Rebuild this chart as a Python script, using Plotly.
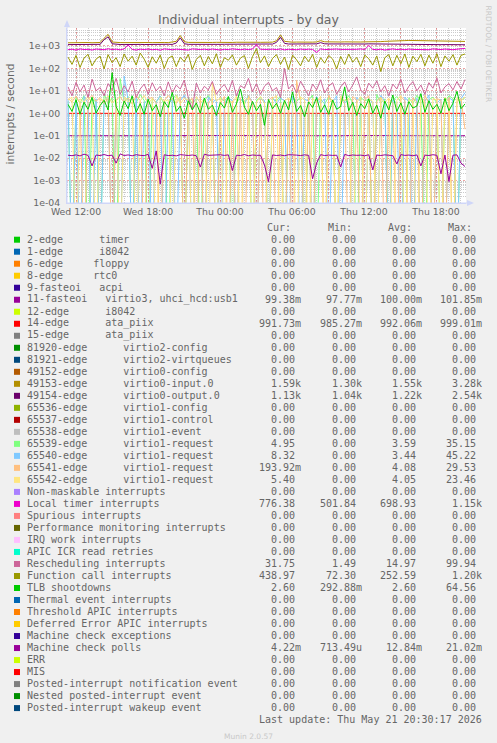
import plotly.graph_objects as go
import pandas as pd
import numpy as np

# ---------------- data ----------------
legend_names = [
    "2-edge      timer", "1-edge      i8042", "6-edge     floppy", "8-edge     rtc0",
    "9-fasteoi   acpi", "11-fasteoi   virtio3, uhci_hcd:usb1", "12-edge      i8042",
    "14-edge      ata_piix", "15-edge      ata_piix",
    "81920-edge      virtio2-config", "81921-edge      virtio2-virtqueues",
    "49152-edge      virtio0-config", "49153-edge      virtio0-input.0",
    "49154-edge      virtio0-output.0", "65536-edge      virtio1-config",
    "65537-edge      virtio1-control", "65538-edge      virtio1-event",
    "65539-edge      virtio1-request", "65540-edge      virtio1-request",
    "65541-edge      virtio1-request", "65542-edge      virtio1-request",
    "Non-maskable interrupts", "Local timer interrupts", "Spurious interrupts",
    "Performance monitoring interrupts", "IRQ work interrupts", "APIC ICR read retries",
    "Rescheduling interrupts", "Function call interrupts", "TLB shootdowns",
    "Thermal event interrupts", "Threshold APIC interrupts", "Deferred Error APIC interrupts",
    "Machine check exceptions", "Machine check polls", "ERR", "MIS",
    "Posted-interrupt notification event", "Nested posted-interrupt event",
    "Posted-interrupt wakeup event",
]
legend_colors = [
    "#00CC00", "#0066B3", "#FF8000", "#FFCC00", "#330099", "#990099", "#CCFF00", "#FF0000",
    "#808080", "#008F00", "#00487D", "#B35A00", "#B38F00", "#6B006B", "#8FB300", "#B30000",
    "#BEBEBE", "#80FF80", "#80C9FF", "#FFC080", "#FFE680", "#AA80FF", "#EE00CC", "#FF8080",
    "#666600", "#FFBFFF", "#00FFCC", "#CC6699", "#999900", "#00CC00", "#0066B3", "#FF8000",
    "#FFCC00", "#330099", "#990099", "#CCFF00", "#FF0000", "#808080", "#008F00", "#00487D",
]
Z = "0.00"
cur_vals = [Z, Z, Z, Z, Z, "99.38m", Z, "991.73m", Z, Z, Z, Z, "1.59k", "1.13k", Z, Z, Z,
            "4.95", "8.32", "193.92m", "5.40", Z, "776.38", Z, Z, Z, Z, "31.75", "438.97",
            "2.60", Z, Z, Z, Z, "4.22m", Z, Z, Z, Z, Z]
min_vals = [Z, Z, Z, Z, Z, "97.77m", Z, "985.27m", Z, Z, Z, Z, "1.30k", "1.04k", Z, Z, Z,
            Z, Z, Z, Z, Z, "501.84", Z, Z, Z, Z, "1.49", "72.30",
            "292.88m", Z, Z, Z, Z, "713.49u", Z, Z, Z, Z, Z]
avg_vals = [Z, Z, Z, Z, Z, "100.00m", Z, "992.06m", Z, Z, Z, Z, "1.55k", "1.22k", Z, Z, Z,
            "3.59", "3.44", "4.08", "4.05", Z, "698.93", Z, Z, Z, Z, "14.97", "252.59",
            "2.60", Z, Z, Z, Z, "12.84m", Z, Z, Z, Z, Z]
max_vals = [Z, Z, Z, Z, Z, "101.85m", Z, "999.01m", Z, Z, Z, Z, "3.28k", "2.54k", Z, Z, Z,
            "35.15", "45.22", "29.53", "23.46", Z, "1.15k", Z, Z, Z, Z, "99.94", "1.20k",
            "64.56", Z, Z, Z, Z, "21.02m", Z, Z, Z, Z, Z]

# time series (interrupts / second)
fasteoi11 = [0.100, 0.099, 0.101, 0.100, 0.098, 0.100, 0.102, 0.100, 0.099, 0.100,
             0.101, 0.100, 0.0978, 0.100, 0.1018, 0.100, 0.099, 0.100, 0.101, 0.0994]
ata14 = [0.992, 0.990, 0.993, 0.991, 0.994, 0.989, 0.992, 0.995, 0.990, 0.993,
         0.985, 0.992, 0.996, 0.991, 0.993, 0.990, 0.999, 0.992, 0.991, 0.992]
input0 = [
    1380, 1400, 1390, 1410, 1400, 1420, 1390, 1400, 1430, 2200, 3280, 1500, 1420, 1410, 1400, 1420, 1390, 1410, 1400, 1430,
    1420, 1410, 1440, 1420, 1430, 1410, 1450, 1600, 2900, 1550, 1440, 1420, 1430, 1410, 1440, 1420, 1430, 1450, 1420, 1440,
    1450, 1430, 1460, 1440, 1450, 1470, 1440, 1460, 1450, 1470, 1460, 1480, 1700, 3100, 1600, 1480, 1470, 1490, 1460, 1480,
    1500, 1480, 1510, 1720, 1530, 1500, 1490, 1510, 1500, 1520, 1490, 1510, 1530, 1500, 1520, 1510, 1540, 1520, 1560, 1600,
    1650, 1700, 1720, 1740, 1730, 1760, 1750, 1740, 1760, 1780, 1770, 1760, 1740, 1720, 1700, 1690, 1680, 1670, 1640, 1590]
output0 = [
    1150, 1160, 1150, 1170, 1160, 1150, 1170, 1160, 1180, 1900, 2540, 1250, 1170, 1160, 1150, 1170, 1160, 1150, 1170, 1160,
    1180, 1170, 1160, 1180, 1170, 1190, 1170, 1350, 2300, 1250, 1180, 1170, 1190, 1180, 1170, 1190, 1180, 1200, 1180, 1190,
    1200, 1190, 1210, 1200, 1190, 1210, 1200, 1220, 1210, 1200, 1220, 1210, 1450, 2450, 1300, 1220, 1210, 1230, 1220, 1210,
    1230, 1220, 1240, 1400, 1250, 1230, 1220, 1240, 1230, 1220, 1240, 1230, 1250, 1230, 1220, 1240, 1230, 1250, 1240, 1230,
    1250, 1240, 1230, 1250, 1240, 1220, 1210, 1200, 1190, 1180, 1170, 1160, 1150, 1140, 1150, 1140, 1130, 1140, 1130, 1130]
req65539 = [
    3.5, 0, 5.2, 2.8, 6.1, 0, 4.0, 3.3, 0, 7.5, 2.6, 4.8, 0, 35.15, 3.0, 5.5, 0, 2.9, 6.8, 3.7,
    0, 4.5, 3.1, 5.9, 2.4, 0, 4.2, 6.6, 3.0, 0, 5.1, 2.7, 4.4, 0, 3.6, 6.2, 2.8, 0, 4.9, 3.4,
    5.7, 0, 3.2, 4.6, 2.5, 6.4, 0, 3.9, 5.0, 2.9, 0, 4.3, 3.5, 6.0, 0, 2.7, 4.8, 3.3, 5.4, 0,
    3.8, 6.5, 0, 4.1, 2.6, 5.3, 3.0, 0, 4.7, 3.4, 6.1, 2.8, 0, 5.0, 3.6, 4.2, 0, 6.8, 2.9, 4.4,
    0, 3.7, 5.6, 3.1, 0, 4.9, 2.7, 6.3, 3.5, 0, 4.0, 5.2, 2.9, 0, 3.3, 6.0, 4.5, 0, 3.8, 4.95]
req65540 = [
    4.2, 0, 3.1, 0, 5.6, 2.8, 0, 4.4, 0, 3.5, 6.0, 0, 2.9, 0, 45.22, 3.8, 0, 5.1, 0, 2.6,
    4.7, 0, 3.3, 5.9, 0, 2.7, 4.1, 0, 3.6, 6.3, 2.5, 0, 4.8, 3.0, 0, 5.4, 3.2, 4.0, 0, 2.8,
    5.0, 3.5, 0, 4.6, 2.9, 6.1, 3.1, 0, 4.3, 3.7, 0, 5.2, 2.6, 4.9, 3.4, 0, 5.8, 3.0, 0, 4.1,
    3.6, 0, 5.5, 2.8, 4.4, 0, 3.2, 6.0, 0, 3.9, 2.7, 0, 5.1, 3.3, 0, 4.6, 2.9, 0, 6.2, 3.5,
    0, 4.0, 2.8, 0, 5.3, 3.1, 0, 4.7, 0, 3.4, 6.4, 0, 2.9, 4.2, 0, 5.0, 3.6, 0, 4.4, 8.32]
req65541 = [
    4.5, 3.2, 5.8, 2.9, 0, 4.1, 6.3, 3.4, 5.0, 2.7, 4.6, 0, 3.9, 5.5, 3.0, 4.8, 2.6, 6.0, 3.7, 0,
    4.3, 5.1, 2.8, 0, 3.6, 6.2, 4.0, 2.9, 5.4, 0, 3.3, 4.7, 0, 5.9, 0, 3.1, 4.4, 0, 2.8, 5.6,
    0, 3.5, 0, 4.9, 0, 6.1, 2.7, 0, 4.2, 0, 3.8, 5.3, 0, 2.9, 0, 4.6, 0, 29.53, 3.4, 0,
    5.0, 0, 3.7, 4.5, 0, 6.4, 3.0, 0, 4.8, 2.6, 0, 5.5, 3.9, 0, 4.1, 6.0, 0, 3.3, 5.2, 0,
    4.4, 2.8, 0, 5.7, 3.6, 0, 4.9, 3.1, 0, 6.3, 2.7, 0, 4.5, 3.8, 0, 5.1, 0, 3.4, 4.6, 0.194]
req65542 = [
    3.9, 5.2, 0, 4.4, 3.1, 5.7, 2.8, 0, 4.6, 3.5, 6.0, 2.9, 4.1, 0, 5.4, 3.2, 4.8, 0, 3.6, 6.2,
    2.7, 4.5, 0, 5.1, 3.3, 4.0, 0, 6.3, 2.6, 4.7, 3.8, 0, 5.5, 3.0, 4.2, 0, 23.46, 3.4, 5.0, 0,
    4.3, 2.8, 5.9, 0, 3.7, 4.9, 0, 3.1, 5.6, 2.9, 0, 4.4, 6.1, 0, 3.5, 4.8, 2.7, 0, 5.3, 3.9,
    0, 4.6, 3.2, 5.8, 0, 2.8, 4.1, 0, 6.0, 3.6, 4.7, 0, 3.0, 5.5, 0, 4.3, 3.4, 0, 5.0, 2.9,
    4.8, 0, 3.8, 6.2, 0, 4.0, 3.3, 0, 5.7, 2.7, 0, 4.5, 3.9, 0, 5.2, 3.1, 0, 4.9, 3.6, 5.40]
local_timer = [
    680, 720, 650, 740, 690, 710, 660, 730, 700, 680, 750, 690, 720, 670, 740, 1100, 700, 660, 720, 690,
    730, 680, 710, 650, 740, 700, 680, 720, 690, 710, 660, 740, 700, 690, 720, 680, 730, 700, 660, 710,
    690, 740, 700, 680, 720, 690, 730, 1150, 710, 680, 700, 720, 690, 740, 670, 710, 700, 680, 730, 690,
    720, 700, 510, 740, 690, 710, 680, 730, 700, 690, 720, 680, 710, 740, 690, 1050, 700, 680, 720, 660,
    710, 740, 690, 720, 680, 730, 700, 690, 720, 710, 680, 740, 700, 690, 730, 710, 680, 720, 760, 776]
resched = [
    15, 6, 24, 9, 18, 5, 33, 10, 14, 6, 21, 11, 36, 7, 17, 9, 27, 5, 12, 20,
    7, 23, 10, 16, 6, 25, 8, 18, 12, 30, 5, 1.49, 22, 8, 16, 11, 26, 7, 13, 19,
    9, 29, 6, 17, 13, 36, 9, 21, 7, 16, 24, 10, 14, 5, 99.94, 12, 19, 8, 27, 12,
    6, 20, 11, 31, 8, 16, 23, 7, 15, 25, 9, 18, 42, 11, 7, 22, 13, 28, 9, 17,
    6, 20, 12, 33, 8, 16, 26, 10, 18, 7, 23, 13, 37, 8, 15, 21, 11, 26, 12, 31.75]
func_call = [
    320, 150, 380, 110, 290, 420, 130, 260, 350, 95, 410, 180, 300, 120, 440, 210, 350, 140, 480, 260,
    110, 330, 170, 390, 100, 280, 360, 120, 310, 200, 420, 90, 250, 380, 130, 340, 160, 450, 110, 300,
    230, 400, 140, 290, 370, 100, 330, 750, 180, 360, 120, 280, 410, 150, 320, 90, 390, 240, 130, 350,
    200, 420, 110, 300, 170, 380, 260, 95, 340, 150, 430, 190, 310, 120, 390, 270, 140, 360, 72.3, 300,
    410, 130, 380, 160, 440, 110, 350, 200, 420, 130, 390, 170, 450, 120, 360, 210, 410, 140, 380, 439]
tlb = [
    2.5, 1.2, 4.0, 0.9, 3.1, 1.5, 5.2, 1.0, 2.2, 3.8, 1.4, 64.56, 2.0, 0.8, 3.5, 1.6, 6.0, 1.1, 2.7, 0.9,
    4.2, 1.3, 2.4, 0.7, 3.3, 1.8, 8.5, 1.2, 2.1, 0.6, 3.6, 1.4, 2.9, 1.0, 4.8, 1.5, 2.3, 0.8, 3.0, 1.7,
    5.5, 1.1, 2.6, 12.0, 1.9, 0.9, 3.4, 1.3, 2.5, 0.29, 4.1, 1.6, 2.8, 1.0, 3.7, 1.4, 9.0, 1.2, 2.2, 0.7,
    3.2, 1.8, 5.0, 1.1, 2.4, 0.9, 3.9, 1.5, 2.0, 15.0, 1.3, 3.1, 0.8, 2.7, 1.6, 4.4, 1.0, 2.3, 0.6, 3.5,
    1.4, 6.5, 1.2, 2.9, 0.9, 3.3, 1.7, 2.1, 7.5, 1.1, 3.6, 1.5, 2.5, 1.0, 4.6, 1.3, 2.8, 9.5, 1.6, 2.6]
mc_polls = [
    0.0135, 0.0128, 0.0140, 0.0125, 0.0150, 0.0132, 0.0045, 0.0138, 0.0130, 0.0145, 0.0128, 0.0136, 0.0060, 0.0155, 0.0131, 0.0139, 0.0127, 0.0142, 0.0133, 0.0129,
    0.0148, 0.0035, 0.0210, 0.0007, 0.0141, 0.0130, 0.0134, 0.0126, 0.0143, 0.0137, 0.0131, 0.0138, 0.0128, 0.0040, 0.0150, 0.0133, 0.0136, 0.0129, 0.0141, 0.0132,
    0.0140, 0.0028, 0.0135, 0.0130, 0.0145, 0.0127, 0.0138, 0.0133, 0.0134, 0.0050, 0.0009, 0.0139, 0.0131, 0.0137, 0.0128, 0.0142, 0.0134, 0.0136, 0.0130, 0.0140,
    0.0133, 0.0012, 0.0060, 0.0143, 0.0130, 0.0137, 0.0132, 0.0135, 0.0040, 0.0147, 0.0129, 0.0138, 0.0133, 0.0136, 0.0128, 0.0141, 0.0030, 0.0137, 0.0131, 0.0140,
    0.0134, 0.0129, 0.0055, 0.0144, 0.0132, 0.0137, 0.0128, 0.0139, 0.0045, 0.0136, 0.0131, 0.0142, 0.0133, 0.0020, 0.0138, 0.0009, 0.0135, 0.0140, 0.0060, 0.00422]

# legend index -> series (drawn in legend order)
plotted = {5: fasteoi11, 7: ata14, 12: input0, 13: output0, 17: req65539, 18: req65540,
           19: req65541, 20: req65542, 22: local_timer, 27: resched, 28: func_call,
           29: tlb, 34: mc_polls}

data_start, data_end = "2026-05-20 11:20", "2026-05-21 20:25"
view_start, view_end = "2026-05-20 11:15", "2026-05-21 20:30"

# ---------------- layout geometry ----------------
W, H = 497, 743
L, R, T, B = 67, 31, 28, 540
PW, PH = W - L - R, H - T - B
BOT = H - B


def px(x):
    return (x - L) / PW


def py(y):
    return (BOT - y) / PH


FONT = "DejaVu Sans, Verdana, sans-serif"
MONO = "DejaVu Sans Mono, monospace"
TXT = "#666666"
AXC = "#CFD6F8"

fig = go.Figure()
for idx in sorted(plotted):
    vals = np.array(plotted[idx], dtype=float)
    xs = pd.date_range(data_start, data_end, periods=len(vals))
    fig.add_trace(go.Scatter(
        x=xs, y=np.where(vals > 0, vals, 1e-7), mode="lines",
        line=dict(color=legend_colors[idx], width=1), hoverinfo="skip", showlegend=False))

major_x = pd.date_range("2026-05-20 12:00", "2026-05-21 18:00", freq="3h")
major_txt = [t.strftime("%a %H:%M") if t.hour % 6 == 0 else "" for t in major_x]
ytv = [10.0 ** k for k in range(-4, 4)]
ytt = [f"{v:.0e}" for v in ytv]
yminor = [m * 10.0 ** k for k in range(-4, 4) for m in range(2, 10)]

MGRID = "rgba(222,80,80,0.5)"
GRID = "rgba(140,140,140,0.45)"

fig.update_layout(
    width=W, height=H, margin=dict(l=L, r=R, t=T, b=B, pad=0),
    paper_bgcolor="#F0F0F0", plot_bgcolor="#FFFFFF",
    font=dict(family=FONT, color=TXT),
    xaxis=dict(type="date", range=[view_start, view_end], tickmode="array",
               tickvals=major_x, ticktext=major_txt, showgrid=True, gridcolor=MGRID,
               gridwidth=1, griddash="2px,2px", ticks="", tickfont=dict(size=9.33, color=TXT),
               showline=True, linecolor=AXC, linewidth=1, zeroline=False,
               minor=dict(tickmode="linear", tick0="2026-05-20 12:00", dtick=3600000,
                          showgrid=True, gridcolor=GRID, griddash="1px,1px", gridwidth=1)),
    yaxis=dict(type="log", range=[-4, 3.8], tickmode="array", tickvals=ytv, ticktext=ytt,
               showgrid=True, gridcolor=MGRID, gridwidth=1, griddash="2px,2px", ticks="",
               tickfont=dict(size=9.33, color=TXT), showline=True, linecolor=AXC, linewidth=1,
               zeroline=False, ticklabelstandoff=4,
               minor=dict(tickmode="array", tickvals=yminor, showgrid=True, gridcolor=GRID,
                          griddash="1px,1px", gridwidth=1)),
)

shapes = []
# axis arrows
shapes.append(dict(type="line", xref="paper", yref="paper", x0=px(67), x1=px(67), y0=py(203), y1=py(22),
                   line=dict(color=AXC, width=1)))
shapes.append(dict(type="path", xref="paper", yref="paper",
                   path=f"M {px(64)},{py(27)} L {px(67)},{py(20)} L {px(70)},{py(27)} Z",
                   fillcolor=AXC, line=dict(color=AXC, width=0)))
shapes.append(dict(type="line", xref="paper", yref="paper", x0=px(67), x1=px(472), y0=py(203), y1=py(203),
                   line=dict(color=AXC, width=1)))
shapes.append(dict(type="path", xref="paper", yref="paper",
                   path=f"M {px(467)},{py(200)} L {px(474)},{py(203)} L {px(467)},{py(206)} Z",
                   fillcolor=AXC, line=dict(color=AXC, width=0)))

ann = []
ann.append(dict(text="Individual interrupts - by day", x=px(248.5), y=py(19), xref="paper", yref="paper",
                xanchor="center", yanchor="middle", showarrow=False, font=dict(size=12.5, color=TXT, family=FONT)))
ann.append(dict(text="interrupts / second", x=px(10), y=py(114.5), xref="paper", yref="paper",
                xanchor="center", yanchor="middle", textangle=-90, showarrow=False,
                font=dict(size=10.7, color=TXT, family=FONT)))
ann.append(dict(text="RRDTOOL / TOBI OETIKER", x=px(488), y=py(53.5), xref="paper", yref="paper",
                xanchor="center", yanchor="middle", textangle=90, showarrow=False,
                font=dict(size=7.5, color="#C8C8C8", family=FONT)))

ROW0, ROWH = 239.3, 12.01
col_right = [302, 363, 423, 483]
hdr = ["Cur:", "Min:", "Avg:", "Max:"]
for j, h in enumerate(hdr):
    ann.append(dict(text=h, x=px(col_right[j] - 36), y=py(ROW0 - ROWH), xref="paper", yref="paper",
                    xanchor="left", yanchor="middle", showarrow=False, borderpad=0,
                    font=dict(size=10, color=TXT, family=MONO)))

cols = [cur_vals, min_vals, avg_vals, max_vals]
for i, name in enumerate(legend_names):
    yc = ROW0 + ROWH * i
    shapes.append(dict(type="rect", xref="paper", yref="paper", x0=px(14), x1=px(20),
                       y0=py(yc + 3.4), y1=py(yc - 2.6), fillcolor=legend_colors[i], line=dict(width=0)))
    ann.append(dict(text=name.replace(" ", "\u00a0"), x=px(26), y=py(yc), xref="paper", yref="paper",
                    xanchor="left", yanchor="middle", showarrow=False, borderpad=0,
                    font=dict(size=10, color=TXT, family=MONO)))
    for j in range(4):
        v = cols[j][i]
        if v[-1].isdigit():
            v = v + "\u00a0"
        ann.append(dict(text=v, x=px(col_right[j]), y=py(yc), xref="paper", yref="paper",
                        xanchor="right", yanchor="middle", showarrow=False, borderpad=0,
                        font=dict(size=10, color=TXT, family=MONO)))

ann.append(dict(text="Last\u00a0update:\u00a0Thu\u00a0May\u00a021\u00a020:30:17\u00a02026", x=px(483), y=py(719.3),
                xref="paper", yref="paper", xanchor="right", yanchor="middle", showarrow=False, borderpad=0,
                font=dict(size=10, color=TXT, family=MONO)))
ann.append(dict(text="Munin 2.0.57", x=px(223), y=py(736), xref="paper", yref="paper",
                xanchor="left", yanchor="middle", showarrow=False, borderpad=0,
                font=dict(size=7.5, color="#C8C8C8", family=FONT)))

fig.update_layout(shapes=shapes, annotations=ann)
fig.write_html("out.html",
               config={"displayModeBar": False, "staticPlot": True},
               post_script="document.body.style.margin='0';document.body.style.padding='0';"
                           "document.documentElement.style.overflow='hidden';")
